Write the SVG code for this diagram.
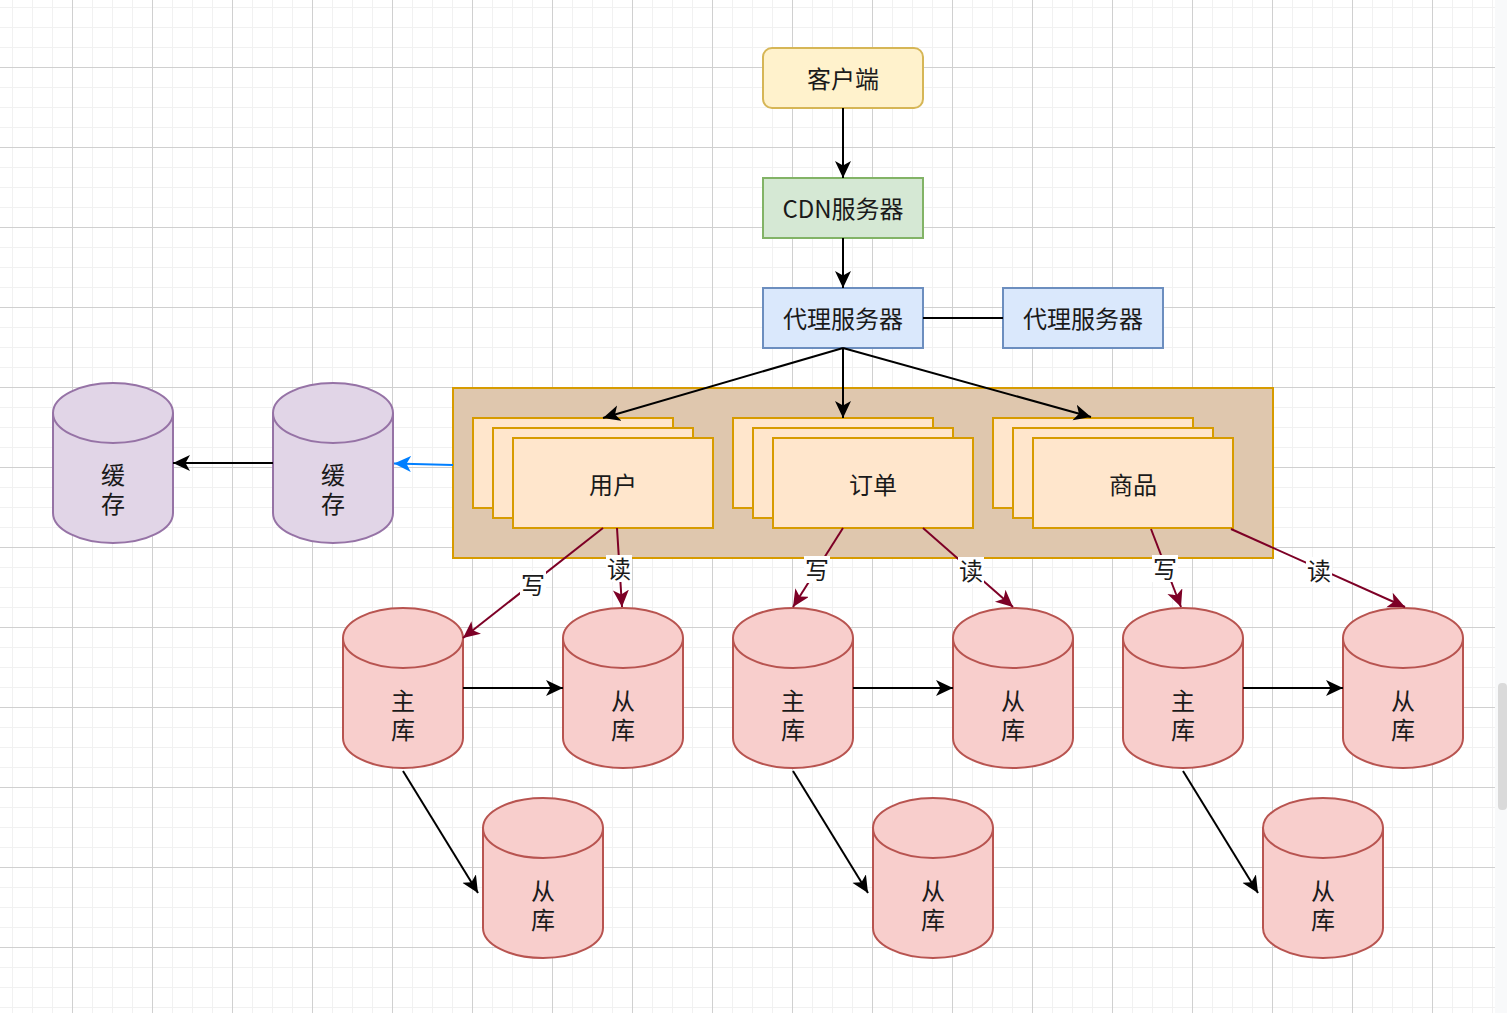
<svg xmlns="http://www.w3.org/2000/svg" width="1507" height="1013" viewBox="0 0 1507 1013">
<style>
text{font-family:"Noto Sans CJK SC","Noto Sans",sans-serif;font-size:24px;fill:#1a1a1a;stroke:none;text-anchor:middle;dominant-baseline:central}
.blk{stroke:#000;stroke-width:2;fill:none}
.red{stroke:#7d0026;stroke-width:2;fill:none}
.blue{stroke:#007fff;stroke-width:2;fill:none}
.stack{fill:#ffe6cc;stroke:#d79b00;stroke-width:2}
.db{fill:#f8cecc;stroke:#b85450;stroke-width:2}
.cache{fill:#e1d5e7;stroke:#9673a6;stroke-width:2}
.lbl{fill:#fff}
</style>
<defs>
<pattern id="grid" patternUnits="userSpaceOnUse" x="-8" y="-13" width="80" height="80">
<rect width="80" height="80" fill="#fff"/>
<rect x="20" width="1" height="80" fill="#f1f1f1"/>
<rect x="40" width="1" height="80" fill="#f1f1f1"/>
<rect x="60" width="1" height="80" fill="#f1f1f1"/>
<rect y="20" width="80" height="1" fill="#f1f1f1"/>
<rect y="40" width="80" height="1" fill="#f1f1f1"/>
<rect y="60" width="80" height="1" fill="#f1f1f1"/>
<rect x="0" width="1" height="80" fill="#d0d0d0"/>
<rect y="0" width="80" height="1" fill="#d0d0d0"/>
</pattern>
<marker id="ab" markerUnits="userSpaceOnUse" markerWidth="18" markerHeight="17" refX="17" refY="8" orient="auto"><path d="M0,0 L17,8 L0,16 L4.5,8 Z" fill="#000"/></marker>
<marker id="ar" markerUnits="userSpaceOnUse" markerWidth="18" markerHeight="17" refX="17" refY="8" orient="auto"><path d="M0,0 L17,8 L0,16 L4.5,8 Z" fill="#7d0026"/></marker>
<marker id="abl" markerUnits="userSpaceOnUse" markerWidth="18" markerHeight="17" refX="17" refY="8" orient="auto"><path d="M0,0 L17,8 L0,16 L4.5,8 Z" fill="#007fff"/></marker>
<symbol id="cyl" overflow="visible"><path d="M0,30 A60,30 0 0 1 120,30 L120,130 A60,30 0 0 1 0,130 Z"/><path d="M0,30 A60,30 0 0 0 120,30" fill="none"/></symbol>
</defs>
<rect width="1495" height="1013" fill="url(#grid)"/>
<rect x="1495" width="12" height="1013" fill="#f8f9fa"/>
<rect x="1498" y="683" width="9" height="127" rx="4" fill="#dadada"/>

<g id="container"><rect x="453" y="388" width="820" height="170" fill="#dfc7ae" stroke="#d79b00" stroke-width="2"/></g>

<g id="client"><rect x="763" y="48" width="160" height="60" rx="9" fill="#fff2cc" stroke="#d6b656" stroke-width="2"/><text x="843" y="77">客户端</text></g>
<g id="cdn"><rect x="763" y="178" width="160" height="60" fill="#d5e8d4" stroke="#82b366" stroke-width="2"/><text x="843" y="207">CDN服务器</text></g>
<g id="proxy1"><rect x="763" y="288" width="160" height="60" fill="#dae8fc" stroke="#6c8ebf" stroke-width="2"/><text x="843" y="317">代理服务器</text></g>
<g id="proxy2"><rect x="1003" y="288" width="160" height="60" fill="#dae8fc" stroke="#6c8ebf" stroke-width="2"/><text x="1083" y="317">代理服务器</text></g>

<g id="user"><rect class="stack" x="473" y="418" width="200" height="90"/><rect class="stack" x="493" y="428" width="200" height="90"/><rect class="stack" x="513" y="438" width="200" height="90"/><text x="613" y="483">用户</text></g>
<g id="order"><rect class="stack" x="733" y="418" width="200" height="90"/><rect class="stack" x="753" y="428" width="200" height="90"/><rect class="stack" x="773" y="438" width="200" height="90"/><text x="873" y="483">订单</text></g>
<g id="goods"><rect class="stack" x="993" y="418" width="200" height="90"/><rect class="stack" x="1013" y="428" width="200" height="90"/><rect class="stack" x="1033" y="438" width="200" height="90"/><text x="1133" y="483">商品</text></g>

<g id="cache1"><use class="cache" href="#cyl" x="53" y="383"/><text x="113" y="473">缓<tspan x="113" dy="29">存</tspan></text></g>
<g id="cache2"><use class="cache" href="#cyl" x="273" y="383"/><text x="333" y="473">缓<tspan x="333" dy="29">存</tspan></text></g>

<g id="master1"><use class="db" href="#cyl" x="343" y="608"/><text x="403" y="699">主<tspan x="403" dy="29">库</tspan></text></g>
<g id="slave1a"><use class="db" href="#cyl" x="563" y="608"/><text x="623" y="699">从<tspan x="623" dy="29">库</tspan></text></g>
<g id="slave1b"><use class="db" href="#cyl" x="483" y="798"/><text x="543" y="889">从<tspan x="543" dy="29">库</tspan></text></g>
<g id="master2"><use class="db" href="#cyl" x="733" y="608"/><text x="793" y="699">主<tspan x="793" dy="29">库</tspan></text></g>
<g id="slave2a"><use class="db" href="#cyl" x="953" y="608"/><text x="1013" y="699">从<tspan x="1013" dy="29">库</tspan></text></g>
<g id="slave2b"><use class="db" href="#cyl" x="873" y="798"/><text x="933" y="889">从<tspan x="933" dy="29">库</tspan></text></g>
<g id="master3"><use class="db" href="#cyl" x="1123" y="608"/><text x="1183" y="699">主<tspan x="1183" dy="29">库</tspan></text></g>
<g id="slave3a"><use class="db" href="#cyl" x="1343" y="608"/><text x="1403" y="699">从<tspan x="1403" dy="29">库</tspan></text></g>
<g id="slave3b"><use class="db" href="#cyl" x="1263" y="798"/><text x="1323" y="889">从<tspan x="1323" dy="29">库</tspan></text></g>

<g id="connectors">
<path class="blk" d="M843,108 L843,178" marker-end="url(#ab)"/>
<path class="blk" d="M843,238 L843,288" marker-end="url(#ab)"/>
<path class="blk" d="M923,318 L1003,318"/>
<path class="blk" d="M843,348 L603,418" marker-end="url(#ab)"/>
<path class="blk" d="M843,348 L843,418" marker-end="url(#ab)"/>
<path class="blk" d="M843,348 L1091,417" marker-end="url(#ab)"/>
<path class="blk" d="M273,463 L173,463" marker-end="url(#ab)"/>
<path class="blue" d="M453,465 L394,463.5" marker-end="url(#abl)"/>
<path class="blk" d="M463,688 L563,688" marker-end="url(#ab)"/>
<path class="blk" d="M853,688 L953,688" marker-end="url(#ab)"/>
<path class="blk" d="M1243,688 L1343,688" marker-end="url(#ab)"/>
<path class="blk" d="M403,771 L478,893" marker-end="url(#ab)"/>
<path class="blk" d="M793,771 L868,893" marker-end="url(#ab)"/>
<path class="blk" d="M1183,771 L1258,893" marker-end="url(#ab)"/>
<path class="red" d="M603,528 L463,638" marker-end="url(#ar)"/>
<path class="red" d="M617,528 L622,607" marker-end="url(#ar)"/>
<path class="red" d="M843,528 L793,607" marker-end="url(#ar)"/>
<path class="red" d="M923,528 L1013,607" marker-end="url(#ar)"/>
<path class="red" d="M1151,529 L1181,607" marker-end="url(#ar)"/>
<path class="red" d="M1231,529 L1405,607" marker-end="url(#ar)"/>
<rect class="lbl" x="520" y="571" width="26" height="27"/><text x="533" y="583">写</text>
<rect class="lbl" x="606" y="555" width="26" height="27"/><text x="619" y="567">读</text>
<rect class="lbl" x="804" y="556" width="26" height="27"/><text x="817" y="568">写</text>
<rect class="lbl" x="958" y="557" width="26" height="27"/><text x="971" y="569">读</text>
<rect class="lbl" x="1152" y="555" width="26" height="27"/><text x="1165" y="567">写</text>
<rect class="lbl" x="1306" y="557" width="26" height="27"/><text x="1319" y="569">读</text>
</g>
</svg>
